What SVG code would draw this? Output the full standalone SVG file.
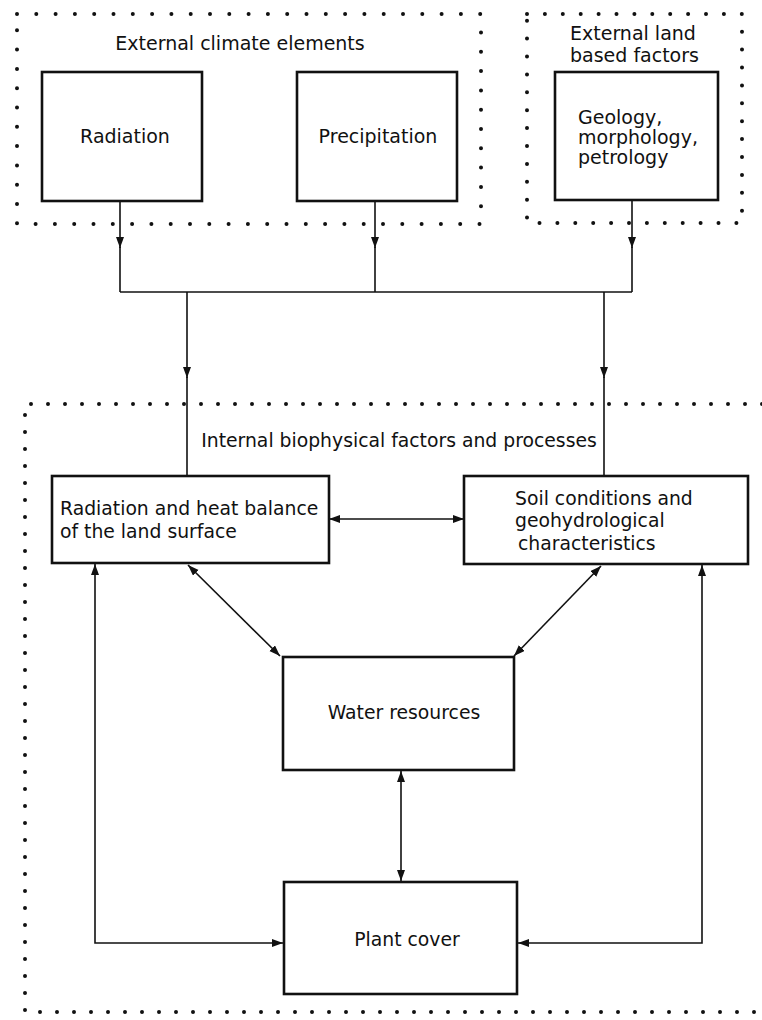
<svg xmlns="http://www.w3.org/2000/svg" width="762" height="1020" viewBox="0 0 762 1020">
<style>
.box{fill:#fff;stroke:#111;stroke-width:2.6}
.dots{fill:none;stroke:#111;stroke-width:4;stroke-linecap:round}
.c{fill:none;stroke:#111;stroke-width:1.6}
text{font-family:"DejaVu Sans","Liberation Sans",sans-serif;fill:#111}
.t{font-size:19px}
.s{font-size:18.8px}
</style>
<defs>
<marker id="ah" markerUnits="userSpaceOnUse" markerWidth="12" markerHeight="10" refX="11" refY="4" orient="auto-start-reverse">
<path d="M0,0 L11,4 L0,8 z" fill="#111"/>
</marker>
</defs>
<rect width="762" height="1020" fill="#fff"/>
<g id="frames">
<path class="dots" d="M17,14 H481 V224 H17 Z" stroke-dasharray="0 19.3"/>
<path class="dots" d="M527,14 H742 V223 H527 Z" stroke-dasharray="0 17.9"/>
<path class="dots" d="M762,404 H25 V1012 H762" stroke-dasharray="0 17"/>
</g>
<g id="label-climate"><text class="t" x="240" y="50" text-anchor="middle">External climate elements</text></g>
<g id="label-land"><text class="t" x="570" y="40">External land</text><text class="t" x="570" y="62">based factors</text></g>
<g id="label-internal"><text class="s" x="399" y="447" text-anchor="middle">Internal biophysical factors and processes</text></g>
<g id="connectors">
<line class="c" x1="120" y1="201" x2="120" y2="248" marker-end="url(#ah)"/>
<line class="c" x1="120" y1="247" x2="120" y2="292"/>
<line class="c" x1="375" y1="201" x2="375" y2="248" marker-end="url(#ah)"/>
<line class="c" x1="375" y1="247" x2="375" y2="292"/>
<line class="c" x1="632" y1="200" x2="632" y2="248" marker-end="url(#ah)"/>
<line class="c" x1="632" y1="247" x2="632" y2="292"/>
<line class="c" x1="120" y1="292" x2="632" y2="292"/>
<line class="c" x1="187" y1="292" x2="187" y2="378" marker-end="url(#ah)"/>
<line class="c" x1="187" y1="377" x2="187" y2="475"/>
<line class="c" x1="604" y1="292" x2="604" y2="378" marker-end="url(#ah)"/>
<line class="c" x1="604" y1="377" x2="604" y2="475"/>
<line class="c" x1="329" y1="519" x2="464" y2="519" marker-start="url(#ah)" marker-end="url(#ah)"/>
<line class="c" x1="188" y1="565" x2="280" y2="656" marker-start="url(#ah)" marker-end="url(#ah)"/>
<line class="c" x1="601" y1="566" x2="514" y2="656" marker-start="url(#ah)" marker-end="url(#ah)"/>
<line class="c" x1="401" y1="771" x2="401" y2="881" marker-start="url(#ah)" marker-end="url(#ah)"/>
<path class="c" d="M95,564 V943 H283" marker-start="url(#ah)" marker-end="url(#ah)"/>
<path class="c" d="M702,565 V943 H518" marker-start="url(#ah)" marker-end="url(#ah)"/>
</g>
<g id="radiation"><rect class="box" x="42" y="72" width="160" height="129"/><text class="t" x="125" y="143" text-anchor="middle">Radiation</text></g>
<g id="precipitation"><rect class="box" x="297" y="72" width="160" height="129"/><text class="t" x="378" y="143" text-anchor="middle">Precipitation</text></g>
<g id="geology"><rect class="box" x="555" y="72" width="163" height="128"/><text class="t" x="578" y="124">Geology,</text><text class="t" x="578" y="144">morphology,</text><text class="t" x="578" y="164">petrology</text></g>
<g id="heat-balance"><rect class="box" x="52" y="476" width="277" height="87"/><text class="s" x="60" y="515">Radiation and heat balance</text><text class="s" x="60" y="538">of the land surface</text></g>
<g id="soil"><rect class="box" x="464" y="476" width="284" height="88"/><text class="s" x="515" y="505">Soil conditions and</text><text class="s" x="515" y="527">geohydrological</text><text class="s" x="518" y="550">characteristics</text></g>
<g id="water"><rect class="box" x="283" y="657" width="231" height="113"/><text class="s" x="404" y="719" text-anchor="middle">Water resources</text></g>
<g id="plant"><rect class="box" x="284" y="882" width="233" height="112"/><text class="s" x="407" y="946" text-anchor="middle">Plant cover</text></g>
</svg>
